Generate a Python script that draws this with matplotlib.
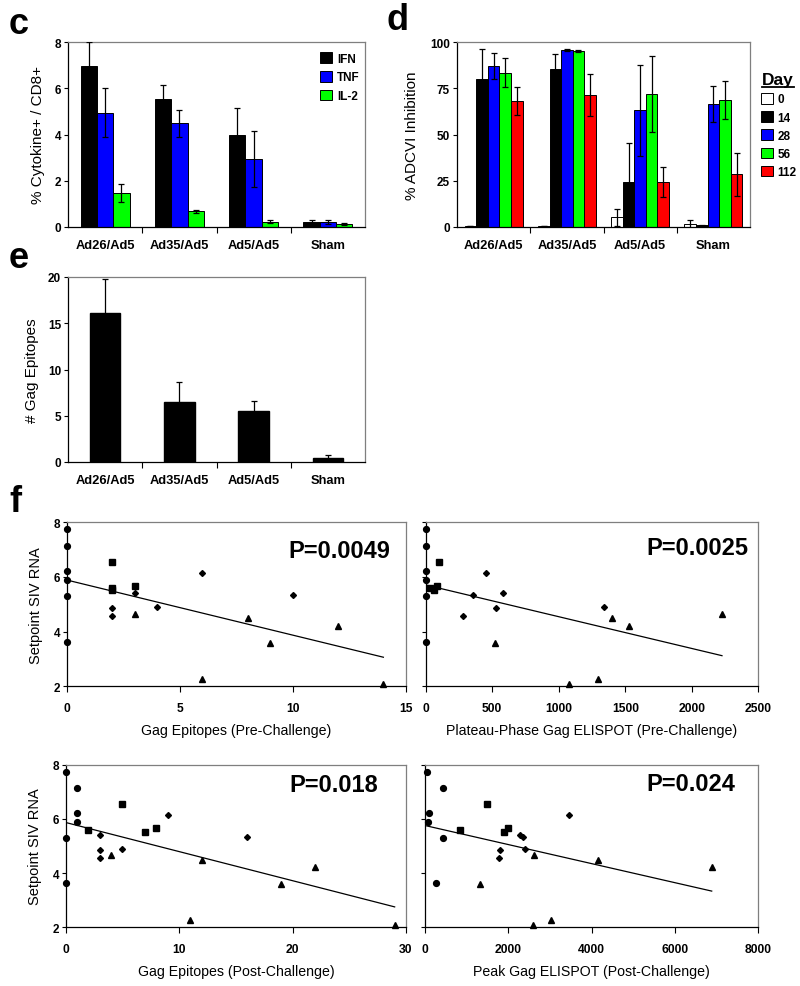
import numpy as np
import matplotlib
matplotlib.use("Agg")
import matplotlib.pyplot as plt
from matplotlib.patches import Patch
from matplotlib.lines import Line2D

plt.rcParams['font.family'] = ['Liberation Sans', 'DejaVu Sans']

W, H = 800, 987

groups = ["Ad26/Ad5", "Ad35/Ad5", "Ad5/Ad5", "Sham"]

# panel c - cytokine+ CD8+
cyto_names = ["IFN", "TNF", "IL-2"]
cyto_colors = ["black", "#0000ff", "#00ff00"]
ifn = [6.95, 5.52, 4.0, 0.2]
ifn_err = [1.05, 0.6, 1.14, 0.09]
tnf = [4.95, 4.48, 2.95, 0.2]
tnf_err = [1.07, 0.6, 1.2, 0.09]
il2 = [1.48, 0.68, 0.23, 0.12]
il2_err = [0.38, 0.06, 0.06, 0.04]

# panel d - ADCVI by day
days = ["0", "14", "28", "56", "112"]
day_colors = ["white", "black", "#0000ff", "#00ff00", "#ff0000"]
adcvi_d0 = [0.7, 0.7, 5.3, 1.5]
adcvi_d0_err = [0, 0, 4.7, 2.5]
adcvi_d14 = [80, 85.3, 24.5, 0.9]
adcvi_d14_err = [16.4, 8, 20.8, 0.3]
adcvi_d28 = [87, 95.6, 63, 66.3]
adcvi_d28_err = [7, 0.4, 24.5, 9.7]
adcvi_d56 = [83.5, 95.3, 71.7, 68.5]
adcvi_d56_err = [7.7, 0.5, 20.5, 10.3]
adcvi_d112 = [68, 71.2, 24.3, 28.6]
adcvi_d112_err = [7.5, 11.4, 8, 11.6]

# panel e - gag epitopes
epitopes = [16.15, 6.5, 5.48, 0.47]
epitopes_err = [3.6, 2.1, 1.1, 0.25]

# panel f - one list per marker group (circle, square, diamond, triangle)
setpoint_circ = [7.74, 7.15, 6.22, 5.89, 5.31, 3.63]
setpoint_sq = [6.55, 5.68, 5.58, 5.53]
setpoint_dia = [6.13, 5.40, 5.33, 4.90, 4.87, 4.57]
setpoint_tri = [4.65, 4.49, 4.22, 3.58, 2.28, 2.10]

pre_epi_circ = [0, 0, 0, 0, 0, 0]
pre_epi_sq = [2, 3, 2, 2]
pre_epi_dia = [6, 3, 10, 4, 2, 2]
pre_epi_tri = [3, 8, 12, 9, 6, 14]

pre_eli_circ = [0, 0, 0, 0, 0, 0]
pre_eli_sq = [100, 83, 33, 63]
pre_eli_dia = [453, 579, 356, 1340, 529, 281]
pre_eli_tri = [2227, 1398, 1531, 521, 1295, 1075]

post_epi_circ = [0, 1, 1, 1, 0, 0]
post_epi_sq = [5, 8, 2, 7]
post_epi_dia = [9, 3, 16, 5, 3, 3]
post_epi_tri = [4, 12, 22, 19, 11, 29]

post_eli_circ = [40, 440, 96, 72, 440, 256]
post_eli_sq = [1480, 1984, 840, 1904]
post_eli_dia = [3464, 2288, 2344, 2400, 1800, 1784]
post_eli_tri = [2616, 4152, 6888, 1328, 3024, 2584]


def ax_rect(left, top, right, bottom):
    return [left / W, 1 - bottom / H, (right - left) / W, (bottom - top) / H]


def style_frame(ax):
    for s in ["left", "bottom"]:
        ax.spines[s].set_color("black")
        ax.spines[s].set_linewidth(0.9)
    for s in ["top", "right"]:
        ax.spines[s].set_color("#7f7f7f")
        ax.spines[s].set_linewidth(0.9)


def style_bar_axes(ax, ymax, yticks):
    ax.set_xlim(-0.5, 3.5)
    ax.set_ylim(0, ymax)
    ax.set_yticks(yticks)
    ax.set_xticks([0.5, 1.5, 2.5])
    ax.set_xticklabels([])
    ax.set_xticks(range(4), labels=groups, minor=True)
    ax.tick_params(axis="x", which="major", direction="out", length=4)
    ax.tick_params(axis="x", which="minor", length=0, pad=8.5, labelsize=9.3)
    ax.tick_params(axis="y", direction="out", length=3, pad=2, labelsize=8.5)
    for lab in ax.get_xticklabels(minor=True) + ax.get_yticklabels():
        lab.set_fontweight("bold")
    style_frame(ax)


def grouped_bars(ax, series, errs, colors, width):
    x = np.arange(len(groups))
    n = len(series)
    for i in range(n):
        pos = x + (i - (n - 1) / 2) * width
        ax.bar(pos, series[i], width, color=colors[i], edgecolor="black", linewidth=0.7, zorder=2)
        ax.errorbar(pos, series[i], yerr=errs[i], fmt="none", ecolor="black",
                    elinewidth=0.9, capsize=2, capthick=0.9, zorder=3)


fig = plt.figure(figsize=(W / 100, H / 100), dpi=100)

# c
ax_c = fig.add_axes(ax_rect(68, 43, 365, 228))
grouped_bars(ax_c, [ifn, tnf, il2], [ifn_err, tnf_err, il2_err], cyto_colors, 0.22)
style_bar_axes(ax_c, 8, [0, 2, 4, 6, 8])
ax_c.set_ylabel("% Cytokine+ / CD8+", fontsize=11)
ax_c.yaxis.set_label_coords(-23 / 297, 0.5)
handles = [Patch(facecolor=c, edgecolor="black", linewidth=0.7) for c in cyto_colors]
ax_c.legend(handles, cyto_names, loc="upper left", bbox_to_anchor=(0.85, 0.945), frameon=False,
            prop={"weight": "bold", "size": 8.5}, handlelength=1.0, handleheight=1.0,
            handletextpad=0.4, labelspacing=0.55, borderpad=0, borderaxespad=0)

# d
ax_d = fig.add_axes(ax_rect(457, 43, 750, 228))
grouped_bars(ax_d, [adcvi_d0, adcvi_d14, adcvi_d28, adcvi_d56, adcvi_d112],
             [adcvi_d0_err, adcvi_d14_err, adcvi_d28_err, adcvi_d56_err, adcvi_d112_err],
             day_colors, 0.158)
style_bar_axes(ax_d, 100, [0, 25, 50, 75, 100])
ax_d.set_ylabel("% ADCVI Inhibition", fontsize=11)
ax_d.yaxis.set_label_coords(-38 / 293, 0.5)
fig.text(762 / W, 1 - 80 / H, "Day", fontsize=12.5, fontweight="bold", ha="left", va="center")
fig.add_artist(Line2D([762 / W, 794 / W], [1 - 88 / H] * 2, color="black", linewidth=1.3))
day_handles = [Patch(facecolor=c, edgecolor="black", linewidth=0.7) for c in day_colors]
fig.legend(day_handles, days, loc="upper left", bbox_to_anchor=(761 / W, 1 - 94 / H), frameon=False,
           prop={"weight": "bold", "size": 8.5}, handlelength=1.0, handleheight=1.0,
           handletextpad=0.4, labelspacing=0.5, borderpad=0, borderaxespad=0)

# e
ax_e = fig.add_axes(ax_rect(68, 278, 365, 463))
ax_e.bar(np.arange(4), epitopes, 0.41, color="black", edgecolor="black", zorder=2)
ax_e.errorbar(np.arange(4), epitopes, yerr=epitopes_err, fmt="none", ecolor="black",
              elinewidth=0.9, capsize=2, capthick=0.9, zorder=3)
style_bar_axes(ax_e, 20, [0, 5, 10, 15, 20])
ax_e.set_ylabel("# Gag Epitopes", fontsize=11)
ax_e.yaxis.set_label_coords(-29 / 297, 0.5)

# f
setpoints = [setpoint_circ, setpoint_sq, setpoint_dia, setpoint_tri]
markers = [("o", 4.2), ("s", 4.2), ("D", 3.0), ("^", 4.6)]


def scatter_panel(rect, xs, xmax, xticks, xlabel, ptxt, ppos, left):
    ax = fig.add_axes(rect)
    for xv, yv, (m, ms) in zip(xs, setpoints, markers):
        ax.plot(xv, yv, linestyle="none", marker=m, markersize=ms, color="black", clip_on=False, zorder=3)
    allx = np.concatenate([np.asarray(v, float) for v in xs])
    ally = np.concatenate([np.asarray(v, float) for v in setpoints])
    slope, icpt = np.polyfit(allx, ally, 1)
    lx = np.array([allx.min(), allx.max()])
    ax.plot(lx, slope * lx + icpt, color="black", linewidth=0.9, zorder=2)
    ax.set_xlim(0, xmax)
    ax.set_ylim(2, 8)
    ax.set_xticks(xticks)
    ax.set_yticks([2, 4, 6, 8])
    ax.tick_params(axis="x", direction="out", length=4, pad=7.5, labelsize=8.7)
    ax.tick_params(axis="y", direction="out", length=3, pad=1.5, labelsize=8.5)
    if not left:
        ax.set_yticklabels([])
    for lab in ax.get_xticklabels() + ax.get_yticklabels():
        lab.set_fontweight("bold")
    ax.set_xlabel(xlabel, fontsize=10.2, labelpad=6.5)
    if left:
        ax.set_ylabel("Setpoint SIV RNA", fontsize=10.5)
        ax.yaxis.set_label_coords(-24 / 340, 0.5)
    ax.text(ppos[0], ppos[1], ptxt, transform=ax.transAxes, fontsize=17, fontweight="bold",
            ha="right", va="center")
    style_frame(ax)
    return ax


scatter_panel(ax_rect(66.7, 523.3, 406, 687.3),
              [pre_epi_circ, pre_epi_sq, pre_epi_dia, pre_epi_tri], 15, [0, 5, 10, 15],
              "Gag Epitopes (Pre-Challenge)", "P=0.0049", (0.953, 0.825), True)
scatter_panel(ax_rect(425.7, 523.3, 758.3, 687.3),
              [pre_eli_circ, pre_eli_sq, pre_eli_dia, pre_eli_tri], 2500, [0, 500, 1000, 1500, 2000, 2500],
              "Plateau-Phase Gag ELISPOT (Pre-Challenge)", "P=0.0025", (0.969, 0.849), False)
scatter_panel(ax_rect(65.7, 765.7, 406, 928.3),
              [post_epi_circ, post_epi_sq, post_epi_dia, post_epi_tri], 30, [0, 10, 20, 30],
              "Gag Epitopes (Post-Challenge)", "P=0.018", (0.918, 0.881), True)
scatter_panel(ax_rect(425, 765.7, 758, 928.3),
              [post_eli_circ, post_eli_sq, post_eli_dia, post_eli_tri], 8000, [0, 2000, 4000, 6000, 8000],
              "Peak Gag ELISPOT (Post-Challenge)", "P=0.024", (0.931, 0.887), False)

# panel letters
for letter, lx, ly in [("c", 9, 24), ("d", 386, 21), ("e", 9, 258), ("f", 9, 503)]:
    fig.text(lx / W, 1 - ly / H, letter, fontsize=26, fontweight="bold", ha="left", va="center")

fig.savefig("out.png", dpi=100)
